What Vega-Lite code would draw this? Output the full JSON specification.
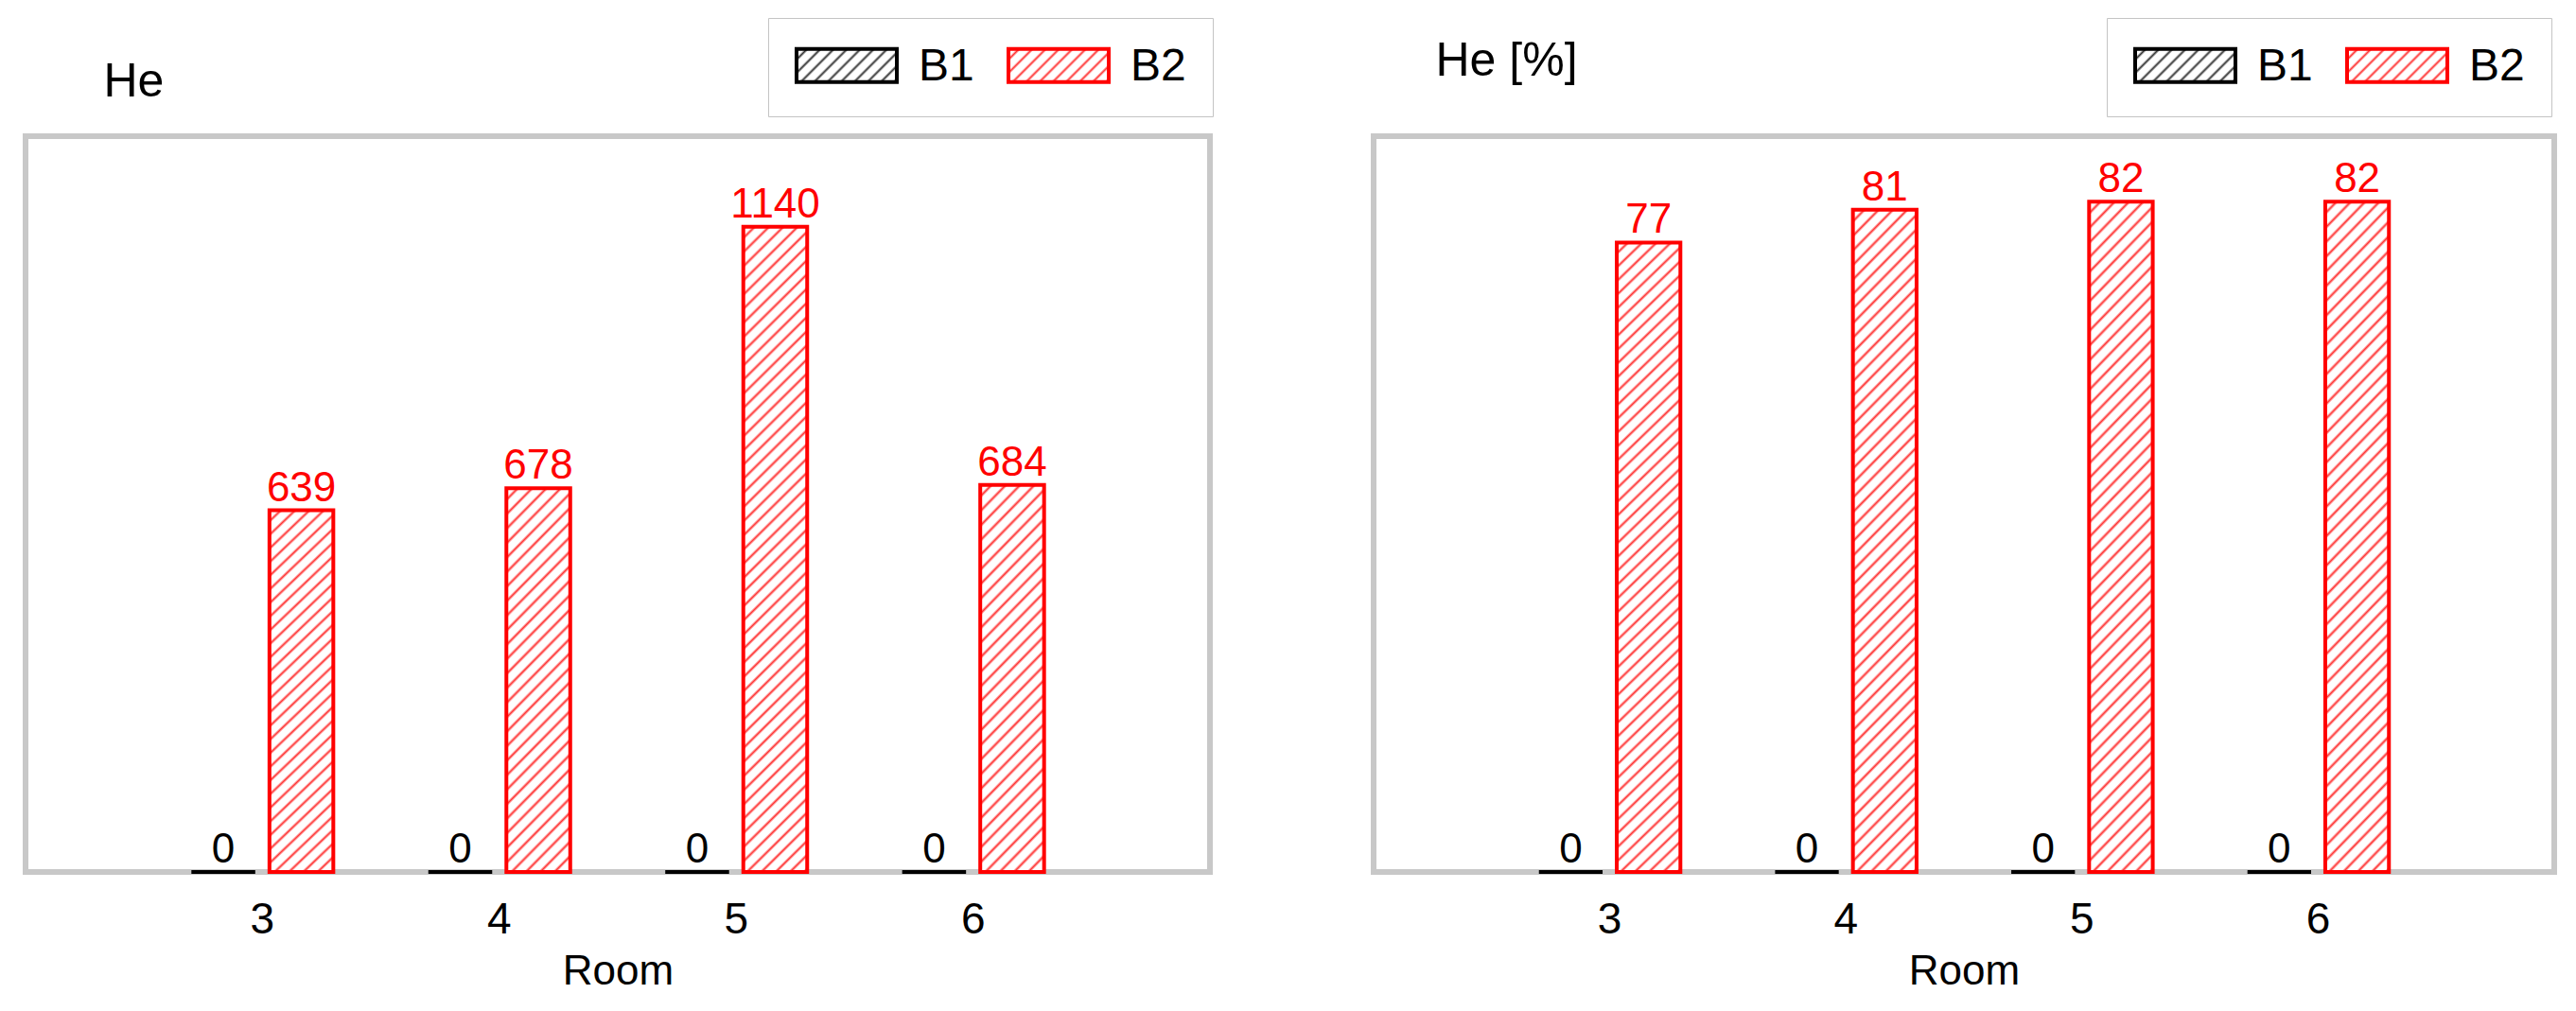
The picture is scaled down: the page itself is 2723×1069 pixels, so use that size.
{
 "$schema": "https://vega.github.io/schema/vega-lite/v6.json",
 "background": "white",
 "padding": {"left": 24, "top": 15, "right": 0, "bottom": 0},
 "spacing": 163,
 "params": [
  {"name": "stops50", "value": [
   {"offset":0,"color":"#fff"},{"offset":0.012,"color":"#fff"},{"offset":0.016,"color":"#f33"},
   {"offset":0.02,"color":"#fff"},{"offset":0.032,"color":"#fff"},{"offset":0.036,"color":"#f33"},
   {"offset":0.04,"color":"#fff"},{"offset":0.052,"color":"#fff"},{"offset":0.056,"color":"#f33"},
   {"offset":0.06,"color":"#fff"},{"offset":0.072,"color":"#fff"},{"offset":0.076,"color":"#f33"},
   {"offset":0.08,"color":"#fff"},{"offset":0.092,"color":"#fff"},{"offset":0.096,"color":"#f33"},
   {"offset":0.1,"color":"#fff"},{"offset":0.112,"color":"#fff"},{"offset":0.116,"color":"#f33"},
   {"offset":0.12,"color":"#fff"},{"offset":0.132,"color":"#fff"},{"offset":0.136,"color":"#f33"},
   {"offset":0.14,"color":"#fff"},{"offset":0.152,"color":"#fff"},{"offset":0.156,"color":"#f33"},
   {"offset":0.16,"color":"#fff"},{"offset":0.172,"color":"#fff"},{"offset":0.176,"color":"#f33"},
   {"offset":0.18,"color":"#fff"},{"offset":0.192,"color":"#fff"},{"offset":0.196,"color":"#f33"},
   {"offset":0.2,"color":"#fff"},{"offset":0.212,"color":"#fff"},{"offset":0.216,"color":"#f33"},
   {"offset":0.22,"color":"#fff"},{"offset":0.232,"color":"#fff"},{"offset":0.236,"color":"#f33"},
   {"offset":0.24,"color":"#fff"},{"offset":0.252,"color":"#fff"},{"offset":0.256,"color":"#f33"},
   {"offset":0.26,"color":"#fff"},{"offset":0.272,"color":"#fff"},{"offset":0.276,"color":"#f33"},
   {"offset":0.28,"color":"#fff"},{"offset":0.292,"color":"#fff"},{"offset":0.296,"color":"#f33"},
   {"offset":0.3,"color":"#fff"},{"offset":0.312,"color":"#fff"},{"offset":0.316,"color":"#f33"},
   {"offset":0.32,"color":"#fff"},{"offset":0.332,"color":"#fff"},{"offset":0.336,"color":"#f33"},
   {"offset":0.34,"color":"#fff"},{"offset":0.352,"color":"#fff"},{"offset":0.356,"color":"#f33"},
   {"offset":0.36,"color":"#fff"},{"offset":0.372,"color":"#fff"},{"offset":0.376,"color":"#f33"},
   {"offset":0.38,"color":"#fff"},{"offset":0.392,"color":"#fff"},{"offset":0.396,"color":"#f33"},
   {"offset":0.4,"color":"#fff"},{"offset":0.412,"color":"#fff"},{"offset":0.416,"color":"#f33"},
   {"offset":0.42,"color":"#fff"},{"offset":0.432,"color":"#fff"},{"offset":0.436,"color":"#f33"},
   {"offset":0.44,"color":"#fff"},{"offset":0.452,"color":"#fff"},{"offset":0.456,"color":"#f33"},
   {"offset":0.46,"color":"#fff"},{"offset":0.472,"color":"#fff"},{"offset":0.476,"color":"#f33"},
   {"offset":0.48,"color":"#fff"},{"offset":0.492,"color":"#fff"},{"offset":0.496,"color":"#f33"},
   {"offset":0.5,"color":"#fff"},{"offset":0.512,"color":"#fff"},{"offset":0.516,"color":"#f33"},
   {"offset":0.52,"color":"#fff"},{"offset":0.532,"color":"#fff"},{"offset":0.536,"color":"#f33"},
   {"offset":0.54,"color":"#fff"},{"offset":0.552,"color":"#fff"},{"offset":0.556,"color":"#f33"},
   {"offset":0.56,"color":"#fff"},{"offset":0.572,"color":"#fff"},{"offset":0.576,"color":"#f33"},
   {"offset":0.58,"color":"#fff"},{"offset":0.592,"color":"#fff"},{"offset":0.596,"color":"#f33"},
   {"offset":0.6,"color":"#fff"},{"offset":0.612,"color":"#fff"},{"offset":0.616,"color":"#f33"},
   {"offset":0.62,"color":"#fff"},{"offset":0.632,"color":"#fff"},{"offset":0.636,"color":"#f33"},
   {"offset":0.64,"color":"#fff"},{"offset":0.652,"color":"#fff"},{"offset":0.656,"color":"#f33"},
   {"offset":0.66,"color":"#fff"},{"offset":0.672,"color":"#fff"},{"offset":0.676,"color":"#f33"},
   {"offset":0.68,"color":"#fff"},{"offset":0.692,"color":"#fff"},{"offset":0.696,"color":"#f33"},
   {"offset":0.7,"color":"#fff"},{"offset":0.712,"color":"#fff"},{"offset":0.716,"color":"#f33"},
   {"offset":0.72,"color":"#fff"},{"offset":0.732,"color":"#fff"},{"offset":0.736,"color":"#f33"},
   {"offset":0.74,"color":"#fff"},{"offset":0.752,"color":"#fff"},{"offset":0.756,"color":"#f33"},
   {"offset":0.76,"color":"#fff"},{"offset":0.772,"color":"#fff"},{"offset":0.776,"color":"#f33"},
   {"offset":0.78,"color":"#fff"},{"offset":0.792,"color":"#fff"},{"offset":0.796,"color":"#f33"},
   {"offset":0.8,"color":"#fff"},{"offset":0.812,"color":"#fff"},{"offset":0.816,"color":"#f33"},
   {"offset":0.82,"color":"#fff"},{"offset":0.832,"color":"#fff"},{"offset":0.836,"color":"#f33"},
   {"offset":0.84,"color":"#fff"},{"offset":0.852,"color":"#fff"},{"offset":0.856,"color":"#f33"},
   {"offset":0.86,"color":"#fff"},{"offset":0.872,"color":"#fff"},{"offset":0.876,"color":"#f33"},
   {"offset":0.88,"color":"#fff"},{"offset":0.892,"color":"#fff"},{"offset":0.896,"color":"#f33"},
   {"offset":0.9,"color":"#fff"},{"offset":0.912,"color":"#fff"},{"offset":0.916,"color":"#f33"},
   {"offset":0.92,"color":"#fff"},{"offset":0.932,"color":"#fff"},{"offset":0.936,"color":"#f33"},
   {"offset":0.94,"color":"#fff"},{"offset":0.952,"color":"#fff"},{"offset":0.956,"color":"#f33"},
   {"offset":0.96,"color":"#fff"},{"offset":0.972,"color":"#fff"},{"offset":0.976,"color":"#f33"},
   {"offset":0.98,"color":"#fff"},{"offset":0.992,"color":"#fff"},{"offset":0.996,"color":"#f33"},
   {"offset":1,"color":"#fff"}
  ]},
  {"name": "stopsK", "value": [
   {"offset":0,"color":"#fff"},{"offset":0.06,"color":"#fff"},{"offset":0.08,"color":"#333"},
   {"offset":0.1,"color":"#fff"},{"offset":0.16,"color":"#fff"},{"offset":0.18,"color":"#333"},
   {"offset":0.2,"color":"#fff"},{"offset":0.26,"color":"#fff"},{"offset":0.28,"color":"#333"},
   {"offset":0.3,"color":"#fff"},{"offset":0.36,"color":"#fff"},{"offset":0.38,"color":"#333"},
   {"offset":0.4,"color":"#fff"},{"offset":0.46,"color":"#fff"},{"offset":0.48,"color":"#333"},
   {"offset":0.5,"color":"#fff"},{"offset":0.56,"color":"#fff"},{"offset":0.58,"color":"#333"},
   {"offset":0.6,"color":"#fff"},{"offset":0.66,"color":"#fff"},{"offset":0.68,"color":"#333"},
   {"offset":0.7,"color":"#fff"},{"offset":0.76,"color":"#fff"},{"offset":0.78,"color":"#333"},
   {"offset":0.8,"color":"#fff"},{"offset":0.86,"color":"#fff"},{"offset":0.88,"color":"#333"},
   {"offset":0.9,"color":"#fff"},{"offset":0.96,"color":"#fff"},{"offset":0.98,"color":"#333"},
   {"offset":1,"color":"#fff"}
  ]},
  {"name": "hatchTall", "expr": "{gradient: 'linear', x1: 0, y1: 0, x2: 0.10638, y2: 1.08743, stops: stops50}"},
  {"name": "hatchShort", "expr": "{gradient: 'linear', x1: 0, y1: 0, x2: 0.3103, y2: 1.8388, stops: stops50}"},
  {"name": "legRed", "expr": "{gradient: 'linear', x1: 0, y1: 0, x2: 5.997, y2: 1.98, stops: stops50}"},
  {"name": "legBlack", "expr": "{gradient: 'linear', x1: 0, y1: 0, x2: 1.1994, y2: 0.396, stops: stopsK}"}
 ],
 "datasets": {
  "he": [
   {"room": "3", "series": "B1", "value": 0},
   {"room": "3", "series": "B2", "value": 639},
   {"room": "4", "series": "B1", "value": 0},
   {"room": "4", "series": "B2", "value": 678},
   {"room": "5", "series": "B1", "value": 0},
   {"room": "5", "series": "B2", "value": 1140},
   {"room": "6", "series": "B1", "value": 0},
   {"room": "6", "series": "B2", "value": 684}
  ],
  "hep": [
   {"room": "3", "series": "B1", "value": 0},
   {"room": "3", "series": "B2", "value": 77},
   {"room": "4", "series": "B1", "value": 0},
   {"room": "4", "series": "B2", "value": 81},
   {"room": "5", "series": "B1", "value": 0},
   {"room": "5", "series": "B2", "value": 82},
   {"room": "6", "series": "B1", "value": 0},
   {"room": "6", "series": "B2", "value": 82}
  ]
 },
 "config": {
  "font": "Liberation Sans",
  "view": {"stroke": "#c8c8c8", "strokeWidth": 6},
  "axis": {"labelColor": "#000000", "titleColor": "#000000"}
 },
 "resolve": {
  "scale": {"x": "independent", "y": "independent", "xOffset": "independent", "stroke": "independent", "color": "independent", "fill": "independent"},
  "legend": {"fill": "independent"}
 },
 "hconcat": [
  {
   "width": 1252,
   "height": 778,
   "data": {"name": "he"},
   "encoding": {
    "x": {"field": "room", "type": "nominal",
     "scale": {"paddingInner": 0.401, "paddingOuter": 0.7},
     "axis": {"title": "Room", "labelAngle": 0, "labelFontSize": 46, "labelBaseline": "alphabetic", "labelPadding": 64,
      "ticks": false, "tickSize": 0, "domain": false, "grid": false,
      "titleFontSize": 44, "titleFontWeight": "normal", "titleY": 118, "titleBaseline": "alphabetic"}},
    "xOffset": {"field": "series", "type": "nominal", "scale": {"paddingInner": 0.182, "paddingOuter": 0}},
    "y": {"field": "value", "type": "quantitative",
     "scale": {"domain": [0, 1300], "nice": false},
     "axis": {"title": "He", "titleAngle": 0, "titleX": 82, "titleY": -43, "titleAlign": "left", "titleBaseline": "alphabetic",
      "titleFontSize": 50, "titleFontWeight": "normal", "labels": false, "ticks": false, "domain": false, "grid": false}}
   },
   "layer": [
    {
     "mark": {"type": "bar", "opacity": 0, "stroke": {"expr": "datum.value === 'B1' ? '#000000' : '#ff0000'"}},
     "encoding": {
      "fill": {"field": "series", "type": "nominal",
       "scale": {"domain": ["B1", "B2"], "range": [{"expr": "legBlack"}, {"expr": "legRed"}]},
       "legend": {"orient": "none", "legendX": 785, "legendY": -125, "direction": "horizontal", "title": null,
        "symbolType": "M-1.257,-1.1H4.8V0.9H-1.257Z", "symbolSize": 1225, "symbolStrokeWidth": 4, "symbolOpacity": 1,
        "labelFontSize": 48, "labelColor": "#000000", "labelOffset": 83, "columnPadding": 28, "padding": 28,
        "strokeColor": "#c4c4c4", "fillColor": "#ffffff"}
      }
     }
    },
    {
     "mark": {"type": "bar", "strokeWidth": 4, "strokeJoin": "miter",
      "fill": {"expr": "datum.series === 'B1' ? 'white' : (datum.value > 1000 ? hatchTall : hatchShort)"}},
     "encoding": {
      "stroke": {"field": "series", "type": "nominal",
       "scale": {"domain": ["B1", "B2"], "range": ["#000000", "#ff0000"]}, "legend": null}
     }
    },
    {
     "mark": {"type": "text", "fontSize": 44, "baseline": "alphabetic", "dy": -10},
     "encoding": {
      "text": {"field": "value", "type": "quantitative", "format": "d"},
      "color": {"field": "series", "type": "nominal",
       "scale": {"domain": ["B1", "B2"], "range": ["#000000", "#ff0000"]}, "legend": null}
     }
    }
   ]
  },
  {
   "width": 1248,
   "height": 778,
   "data": {"name": "hep"},
   "encoding": {
    "x": {"field": "room", "type": "nominal",
     "scale": {"paddingInner": 0.401, "paddingOuter": 0.7},
     "axis": {"title": "Room", "labelAngle": 0, "labelFontSize": 46, "labelBaseline": "alphabetic", "labelPadding": 64,
      "ticks": false, "tickSize": 0, "domain": false, "grid": false,
      "titleFontSize": 44, "titleFontWeight": "normal", "titleY": 118, "titleBaseline": "alphabetic"}},
    "xOffset": {"field": "series", "type": "nominal", "scale": {"paddingInner": 0.182, "paddingOuter": 0}},
    "y": {"field": "value", "type": "quantitative",
     "scale": {"domain": [0, 90], "nice": false},
     "axis": {"title": "He [%]", "titleAngle": 0, "titleX": 65, "titleY": -65, "titleAlign": "left", "titleBaseline": "alphabetic",
      "titleFontSize": 50, "titleFontWeight": "normal", "labels": false, "ticks": false, "domain": false, "grid": false}}
   },
   "layer": [
    {
     "mark": {"type": "bar", "opacity": 0, "stroke": {"expr": "datum.value === 'B1' ? '#000000' : '#ff0000'"}},
     "encoding": {
      "fill": {"field": "series", "type": "nominal",
       "scale": {"domain": ["B1", "B2"], "range": [{"expr": "legBlack"}, {"expr": "legRed"}]},
       "legend": {"orient": "none", "legendX": 775, "legendY": -125, "direction": "horizontal", "title": null,
        "symbolType": "M-1.257,-1.1H4.8V0.9H-1.257Z", "symbolSize": 1225, "symbolStrokeWidth": 4, "symbolOpacity": 1,
        "labelFontSize": 48, "labelColor": "#000000", "labelOffset": 83, "columnPadding": 28, "padding": 28,
        "strokeColor": "#c4c4c4", "fillColor": "#ffffff"}
      }
     }
    },
    {
     "mark": {"type": "bar", "strokeWidth": 4, "strokeJoin": "miter",
      "fill": {"expr": "datum.series === 'B1' ? 'white' : hatchTall"}},
     "encoding": {
      "stroke": {"field": "series", "type": "nominal",
       "scale": {"domain": ["B1", "B2"], "range": ["#000000", "#ff0000"]}, "legend": null}
     }
    },
    {
     "mark": {"type": "text", "fontSize": 44, "baseline": "alphabetic", "dy": -10},
     "encoding": {
      "text": {"field": "value", "type": "quantitative", "format": "d"},
      "color": {"field": "series", "type": "nominal",
       "scale": {"domain": ["B1", "B2"], "range": ["#000000", "#ff0000"]}, "legend": null}
     }
    }
   ]
  }
 ]
}
